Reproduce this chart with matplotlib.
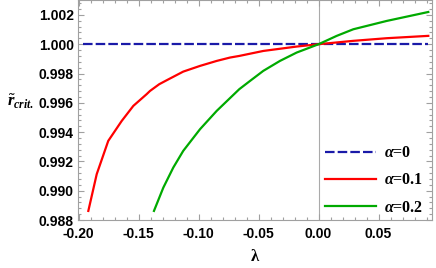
import matplotlib
matplotlib.use("Agg")
import matplotlib.pyplot as plt
from matplotlib.ticker import MultipleLocator, FormatStrFormatter
import numpy as np

plt.rcParams['mathtext.fontset'] = 'custom'
plt.rcParams['mathtext.rm'] = 'Liberation Serif:bold'
plt.rcParams['mathtext.it'] = 'Liberation Serif:italic:bold'
plt.rcParams['mathtext.bf'] = 'Liberation Serif:bold'

# alpha = 0
lam0 = [-0.196, 0.0915]
r0 = [1.0, 1.0]

# alpha = 0.1
lam1 = [-0.1919, -0.1849, -0.1753, -0.1641, -0.1544, -0.1433, -0.1405, -0.1328,
        -0.1266, -0.1128, -0.0988, -0.0849, -0.0738, -0.0661, -0.0461, -0.0183,
        0.0, 0.0289, 0.0568, 0.0914]
r1 = [0.98862, 0.99113, 0.99340, 0.99476, 0.99579, 0.99659, 0.99681, 0.99727,
      0.99754, 0.99813, 0.99852, 0.99886, 0.99909, 0.99920, 0.99954, 0.99984,
      1.0, 1.00023, 1.00041, 1.00057]

# alpha = 0.2
lam2 = [-0.1372, -0.1294, -0.1211, -0.1128, -0.0988, -0.0849, -0.0661, -0.0572,
        -0.0461, -0.0322, -0.0183, 0.0, 0.0151, 0.0289, 0.0568, 0.0914]
r2 = [0.98862, 0.99021, 0.99158, 0.99272, 0.99420, 0.99545, 0.99693, 0.99749,
      0.99818, 0.99886, 0.99943, 1.0, 1.00057, 1.00102, 1.00159, 1.00220]

labels = [r'$\alpha$=0', r'$\alpha$=0.1', r'$\alpha$=0.2']
colors = ['#1a1aa8', '#ff0000', '#00aa00']

fig = plt.figure(figsize=(4.36, 2.68), dpi=100)
ax = fig.add_axes([78/436, 1 - 220/268, (432-78)/436, 220/268 - 0.001])

ax.axvline(0, color='#aaaaaa', lw=0.8, zorder=0)
ax.plot(lam0, r0, color=colors[0], lw=1.6, dashes=[4.3, 1.4], label=labels[0])
ax.plot(lam1, r1, color=colors[1], lw=1.6, label=labels[1])
ax.plot(lam2, r2, color=colors[2], lw=1.6, label=labels[2])

ax.set_xlim(-0.2005, 0.0945)
ax.set_ylim(0.988, 1.003)

ax.xaxis.set_major_locator(MultipleLocator(0.05))
ax.xaxis.set_minor_locator(MultipleLocator(0.01))
ax.yaxis.set_major_locator(MultipleLocator(0.002))
ax.yaxis.set_minor_locator(MultipleLocator(0.0004))
ax.xaxis.set_major_formatter(FormatStrFormatter('%.2f'))
ax.yaxis.set_major_formatter(FormatStrFormatter('%.3f'))

for s in ax.spines.values():
    s.set_color('#a0a0a0')
    s.set_linewidth(0.8)
ax.tick_params(which='both', direction='in', top=True, right=True, color='#a0a0a0', width=0.8)
ax.tick_params(which='major', length=4)
ax.tick_params(which='minor', length=2)
ax.tick_params(axis='y', labelsize=10, pad=3)
ax.tick_params(axis='x', labelsize=10, pad=5)
for lab in ax.get_xticklabels() + ax.get_yticklabels():
    lab.set_family('Liberation Sans')
    lab.set_fontweight('bold')

fig.text(255/436, 1 - 257/268, 'λ', fontsize=12, ha='center', va='center',
         family='Liberation Serif', fontweight='bold')
fig.text(21/436, 1 - 102/268, r'$\tilde{r}_{crit.}$', fontsize=12, ha='center', va='center')

leg = ax.legend(loc='lower right', frameon=False, handlelength=3.2, handletextpad=0.5,
                labelspacing=0.7, bbox_to_anchor=(1.017, -0.045),
                prop={'family': 'Liberation Serif', 'weight': 'bold', 'size': 11.5})

fig.savefig('out.png', dpi=100)
